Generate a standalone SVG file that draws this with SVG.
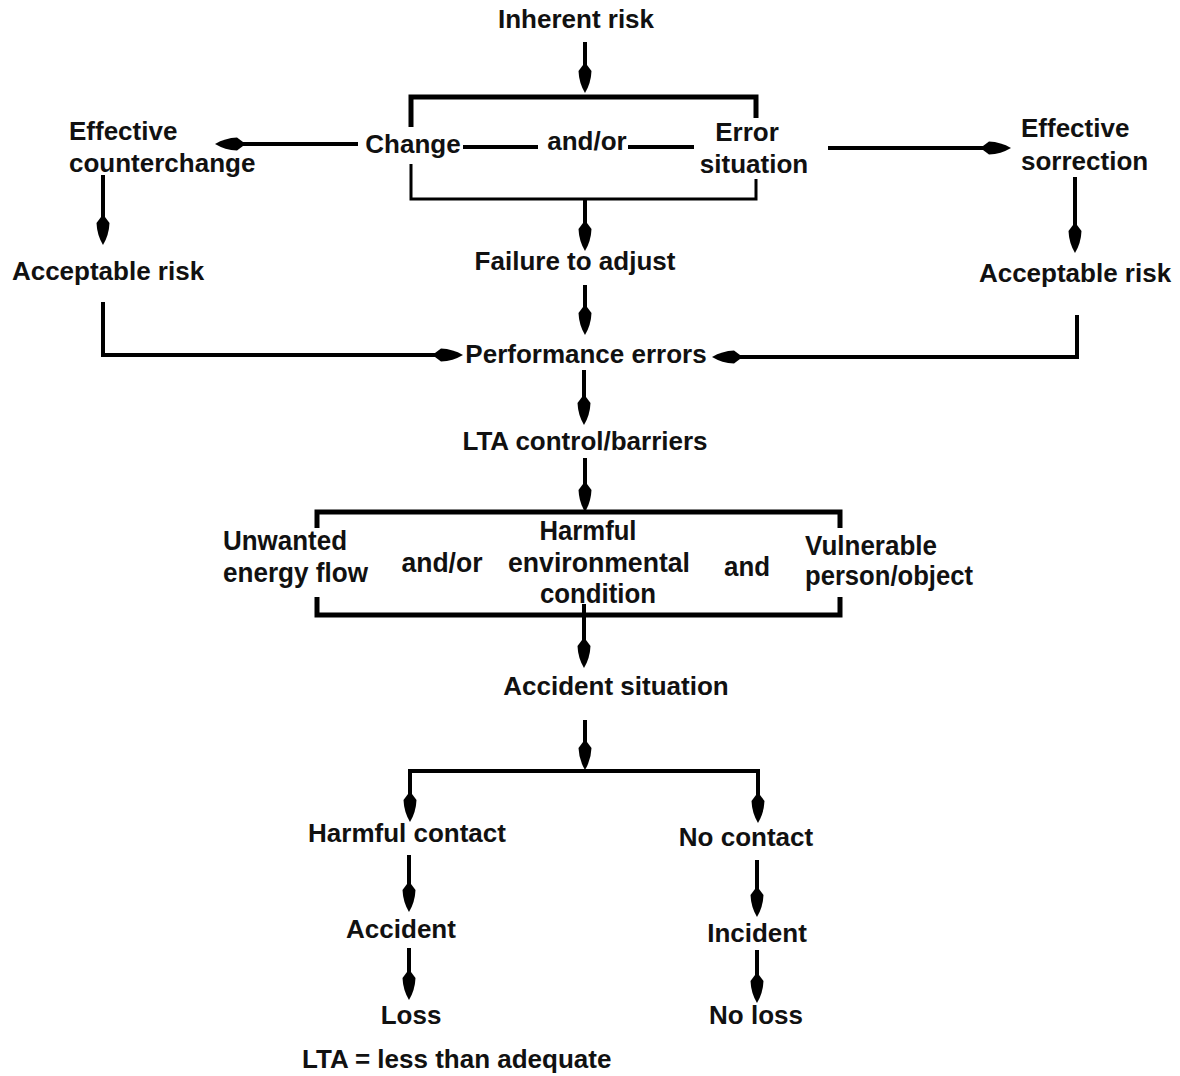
<svg xmlns="http://www.w3.org/2000/svg" width="1180" height="1076" viewBox="0 0 1180 1076">
  <style>
    .b { font-family: "Liberation Sans", Arial, sans-serif; font-weight: bold; font-size: 26px; fill: #111; }
    .r { font-family: "Liberation Sans Narrow", "Liberation Sans", Arial, sans-serif; font-weight: bold; font-size: 28px; fill: #111; }
    .m { text-anchor: middle; }
    .c { fill: none; stroke: #000; stroke-width: 4; stroke-linecap: butt; stroke-linejoin: miter; }
    .thick { fill: none; stroke: #000; stroke-width: 5; }
    .thin { fill: none; stroke: #000; stroke-width: 3; }
  </style>
  <defs>
    <!-- spear-shaped arrowhead; tip sits 10px past the end of the path -->
    <marker id="ah" markerUnits="userSpaceOnUse" viewBox="-22 -8 34 16" markerWidth="34" markerHeight="16" refX="0" refY="0" orient="auto">
      <path d="M10,0 Q0,-6 -12,-6.5 L-18,-2 L-18,2 L-12,6.5 Q0,6 10,0 Z" fill="#000"/>
    </marker>
  </defs>
  <rect width="1180" height="1076" fill="#fff"/>

  <!-- connectors -->
  <g id="connectors">
    <path class="c" d="M585,42 V83" marker-end="url(#ah)"/>
    <!-- change / error bracket -->
    <path class="thick" d="M411,127 V97 H756 V118"/>
    <path class="thin" d="M411,164 V199 H756 V179"/>
    <path class="c" d="M463,147 H538"/>
    <path class="c" d="M628,147 H694"/>
    <!-- side branches -->
    <path class="c" d="M358,144 H225" marker-end="url(#ah)"/>
    <path class="c" d="M103,175 V235" marker-end="url(#ah)"/>
    <path class="c" d="M103,302 V355 H453" marker-end="url(#ah)"/>
    <path class="c" d="M828,148 H1001" marker-end="url(#ah)"/>
    <path class="c" d="M1075,177 V243" marker-end="url(#ah)"/>
    <path class="c" d="M1077,315 V357 H722" marker-end="url(#ah)"/>
    <!-- main spine -->
    <path class="c" d="M585,200 V241" marker-end="url(#ah)"/>
    <path class="c" d="M585,285 V325" marker-end="url(#ah)"/>
    <path class="c" d="M584,370 V415" marker-end="url(#ah)"/>
    <path class="c" d="M585,458 V502" marker-end="url(#ah)"/>
    <!-- energy / environment bracket -->
    <path class="thick" d="M317,528 V512 H840 V528"/>
    <path class="thick" d="M317,597 V615 H840 V597"/>
    <path class="c" d="M584,604 V658" marker-end="url(#ah)"/>
    <path class="c" d="M585,720 V760" marker-end="url(#ah)"/>
    <!-- outcome fork -->
    <path class="c" d="M585,771 H410 V812" marker-end="url(#ah)"/>
    <path class="c" d="M585,771 H758 V813" marker-end="url(#ah)"/>
    <path class="c" d="M409,855 V902" marker-end="url(#ah)"/>
    <path class="c" d="M409,948 V990" marker-end="url(#ah)"/>
    <path class="c" d="M757,860 V907" marker-end="url(#ah)"/>
    <path class="c" d="M757,950 V993" marker-end="url(#ah)"/>
  </g>

  <g id="inherent-risk"><text class="b m" x="576" y="28">Inherent risk</text></g>
  <g id="change"><text class="b m" x="413" y="153">Change</text></g>
  <g id="and-or-1"><text class="b m" x="587" y="150">and/or</text></g>
  <g id="error-situation">
    <text class="b m" x="747" y="141">Error</text>
    <text class="b m" x="754" y="173">situation</text>
  </g>
  <g id="effective-counterchange">
    <text class="b" x="69" y="140">Effective</text>
    <text class="b" x="69" y="172">counterchange</text>
  </g>
  <g id="acceptable-risk-left"><text class="b m" x="108" y="280">Acceptable risk</text></g>
  <g id="effective-sorrection">
    <text class="b" x="1021" y="137">Effective</text>
    <text class="b" x="1021" y="170">sorrection</text>
  </g>
  <g id="acceptable-risk-right"><text class="b m" x="1075" y="282">Acceptable risk</text></g>
  <g id="failure-to-adjust"><text class="b m" x="575" y="270">Failure to adjust</text></g>
  <g id="performance-errors"><text class="b m" x="586" y="363">Performance errors</text></g>
  <g id="lta-control"><text class="b m" x="585" y="450">LTA control/barriers</text></g>

  <g id="unwanted-energy">
    <text class="r" x="223" y="550" textLength="124" lengthAdjust="spacingAndGlyphs">Unwanted</text>
    <text class="r" x="223" y="582" textLength="145" lengthAdjust="spacingAndGlyphs">energy flow</text>
  </g>
  <g id="and-or-2"><text class="r m" x="442" y="572" textLength="81" lengthAdjust="spacingAndGlyphs">and/or</text></g>
  <g id="harmful-condition">
    <text class="r m" x="588" y="540" textLength="97" lengthAdjust="spacingAndGlyphs">Harmful</text>
    <text class="r m" x="599" y="572" textLength="182" lengthAdjust="spacingAndGlyphs">environmental</text>
    <text class="r m" x="598" y="603" textLength="116" lengthAdjust="spacingAndGlyphs">condition</text>
  </g>
  <g id="and"><text class="r m" x="747" y="576" textLength="46" lengthAdjust="spacingAndGlyphs">and</text></g>
  <g id="vulnerable">
    <text class="r" x="805" y="555" textLength="132" lengthAdjust="spacingAndGlyphs">Vulnerable</text>
    <text class="r" x="805" y="585" textLength="168" lengthAdjust="spacingAndGlyphs">person/object</text>
  </g>

  <g id="accident-situation"><text class="b m" x="616" y="695">Accident situation</text></g>
  <g id="harmful-contact"><text class="b m" x="407" y="842">Harmful contact</text></g>
  <g id="no-contact"><text class="b m" x="746" y="846">No contact</text></g>
  <g id="accident"><text class="b m" x="401" y="938">Accident</text></g>
  <g id="incident"><text class="b m" x="757" y="942">Incident</text></g>
  <g id="loss"><text class="b m" x="411" y="1024">Loss</text></g>
  <g id="no-loss"><text class="b m" x="756" y="1024">No loss</text></g>
  <g id="legend"><text class="b" x="302" y="1068">LTA = less than adequate</text></g>
</svg>
